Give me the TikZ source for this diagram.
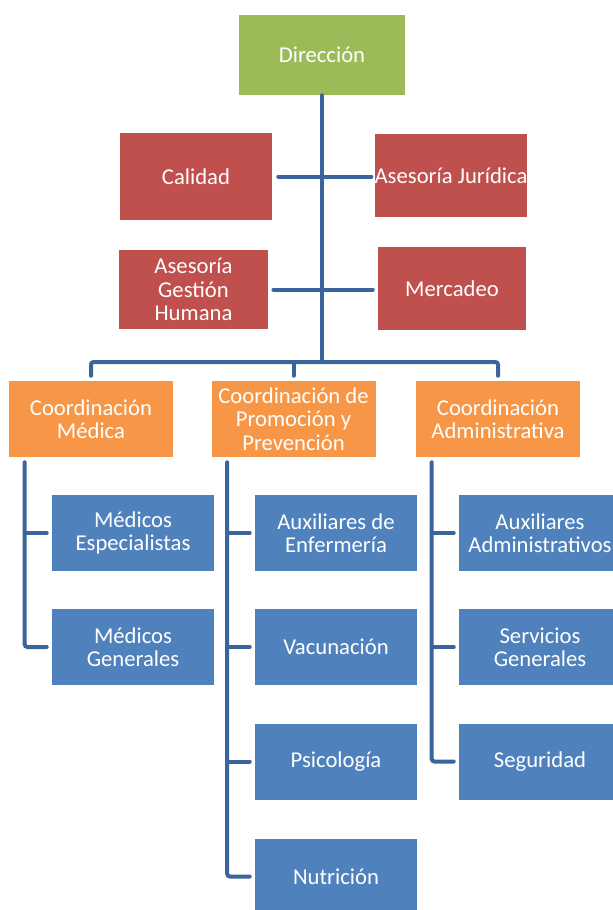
\documentclass[tikz,border=0pt]{standalone}
\usepackage{fontspec}
\setmainfont{Carlito}
\definecolor{verde}{RGB}{155,187,89}
\definecolor{rojo}{RGB}{192,80,77}
\definecolor{naranja}{RGB}{247,150,70}
\definecolor{azul}{RGB}{79,129,189}
\definecolor{linea}{RGB}{58,100,155}
\begin{document}
\begin{tikzpicture}[x=0.75pt,y=-0.75pt,
  caja/.style={draw=none,inner sep=0pt,text=white,align=center,font=\fontsize{17}{17.5}\selectfont},
  dir/.style={caja,fill=verde,minimum width=125pt,minimum height=60pt},
  staff/.style={caja,fill=rojo},
  coord/.style={caja,fill=naranja,minimum width=123pt,minimum height=57pt},
  unidad/.style={caja,fill=azul,minimum width=121.5pt,minimum height=57pt},
  conn/.style={draw=linea,line width=3pt,line cap=round,rounded corners=2pt}]
  \clip (0,0) rectangle (613,910);
  \fill[white] (0,0) rectangle (613,910);

  \node[dir] (direc) at (322,55) {Dirección};
  \node[staff,minimum width=114pt,minimum height=65pt] (cal) at (196,176.5) {Calidad};
  \node[staff,minimum width=114pt,minimum height=62pt] (jur) at (451,175.5) {Asesoría Jurídica};
  \node[staff,minimum width=112pt,minimum height=59pt] (gh) at (193.5,289.5) {Asesoría\\Gestión\\Humana};
  \node[staff,minimum width=111pt,minimum height=62pt] (mer) at (452,288.5) {Mercadeo};

  \node[coord] (cmed) at (91,419) {Coordinación\\Médica};
  \node[coord] (cpro) at (293.5,419) {Coordinación de\\Promoción y\\Prevención};
  \node[coord] (cadm) at (498,419) {Coordinación\\Administrativa};

  \node[unidad] (mesp) at (133,533) {Médicos\\Especialistas};
  \node[unidad] (mgen) at (133,647) {Médicos\\Generales};
  \node[unidad] (aenf) at (336,533) {Auxiliares de\\Enfermería};
  \node[unidad] (vac) at (336,647) {Vacunación};
  \node[unidad] (psi) at (336,761.5) {Psicología};
  \node[unidad] (nut) at (336,876.5) {Nutrición};
  \node[unidad] (aadm) at (540,533) {Auxiliares\\Administrativos};
  \node[unidad] (sgen) at (540,647) {Servicios\\Generales};
  \node[unidad] (seg) at (540,761.5) {Seguridad};

  \coordinate (nivel) at (0,362);
  \coordinate (bar) at (direc.south |- nivel);
  \draw[conn] (direc.south) -- (bar);
  \draw[conn] ([shift={(6,0)}]cal.east) -- ([shift={(-3,0)}]cal.east -| jur.west);
  \draw[conn] ([shift={(5,0)}]gh.east) -- ([shift={(-5,0)}]gh.east -| mer.west);
  \draw[conn] ([shift={(0,-5)}]cmed.north) |- (bar) -| ([shift={(0,-5)}]cadm.north);
  \draw[conn] ([shift={(0,-5)}]cpro.north) -- (cpro.north |- bar);

  \coordinate (tmed) at ([shift={(16,5)}]cmed.south west);
  \coordinate (tpro) at ([shift={(16,5)}]cpro.south west);
  \coordinate (tadm) at ([shift={(16,5)}]cadm.south west);
  \draw[conn] (tmed) |- ([shift={(-5,0)}]mgen.west);
  \draw[conn] (tmed |- mesp.west) -- ([shift={(-5,0)}]mesp.west);
  \draw[conn] (tpro) |- ([shift={(-5,0)}]nut.west);
  \foreach \n in {aenf,vac,psi}
    \draw[conn] (tpro |- \n.west) -- ([shift={(-5,0)}]\n.west);
  \draw[conn] (tadm) |- ([shift={(-5,0)}]seg.west);
  \foreach \n in {aadm,sgen}
    \draw[conn] (tadm |- \n.west) -- ([shift={(-5,0)}]\n.west);
\end{tikzpicture}
\end{document}
